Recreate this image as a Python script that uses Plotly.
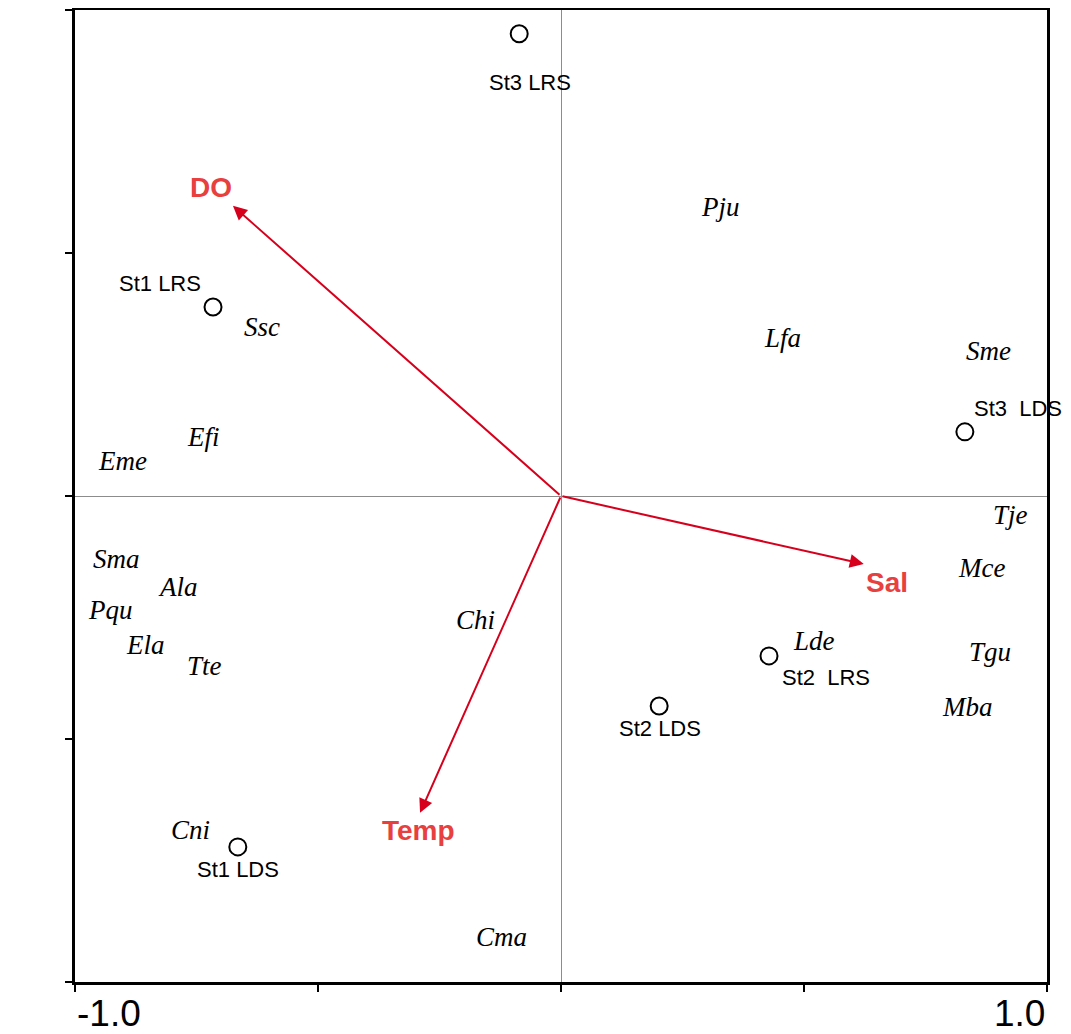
import plotly.graph_objects as go

# Sites (sample scores)
site_names = ["St3 LRS", "St1 LRS", "St3\u00a0 LDS", "St2\u00a0 LRS", "St2 LDS", "St1 LDS"]
site_x = [-0.086, -0.716, 0.831, 0.428, 0.202, -0.665]
site_y = [0.951, 0.389, 0.132, -0.329, -0.432, -0.722]

# Species scores
species_names = ["Pju", "Lfa", "Sme", "Ssc", "Efi", "Eme", "Tje", "Mce", "Sma", "Ala",
                 "Pqu", "Chi", "Ela", "Lde", "Tgu", "Tte", "Mba", "Cni", "Cma"]
species_x = [0.329, 0.455, 0.879, -0.615, -0.735, -0.903, 0.924, 0.866, -0.914, -0.788,
             -0.926, -0.175, -0.854, 0.521, 0.883, -0.733, 0.837, -0.763, -0.123]
species_y = [0.595, 0.325, 0.298, 0.348, 0.121, 0.072, -0.039, -0.148, -0.130, -0.187,
             -0.235, -0.255, -0.307, -0.298, -0.321, -0.350, -0.434, -0.687, -0.907]

# Environmental variables (biplot arrows)
env_names = ["DO", "Sal", "Temp"]
env_x = [-0.675, 0.623, -0.290]
env_y = [0.597, -0.140, -0.652]

# Tick positions and labels
tick_vals = [-1.0, -0.5, 0.0, 0.5, 1.0]
x_end_labels = ["-1.0", "1.0"]
x_end_values = [-1.0, 1.0]

# label offsets (pixels) - styling only
site_label_shift = [(11, 49), (-53, -23), (53, -23), (57, 22), (1, 23), (0, 23)]
env_label_shift = [(-22, -18), (23, 18), (-2, 18)]

ARROW_COLOR = "#D6001C"
LABEL_RED = "#E8403F"

fig = go.Figure()

fig.add_trace(go.Scatter(
    x=site_x, y=site_y, mode="markers",
    marker=dict(symbol="circle-open", size=17, color="black", line=dict(width=2, color="black")),
    hoverinfo="text", text=site_names, showlegend=False,
))

annotations = []
for name, x, y, (dx, dy) in zip(site_names, site_x, site_y, site_label_shift):
    annotations.append(dict(
        x=x, y=y, xref="x", yref="y", text=name, showarrow=False,
        xshift=dx, yshift=-dy,
        font=dict(family="Liberation Sans, Arial", size=22, color="black"),
    ))

for name, x, y in zip(species_names, species_x, species_y):
    annotations.append(dict(
        x=x, y=y, xref="x", yref="y", text="<i>" + name + "</i>", showarrow=False,
        font=dict(family="Liberation Serif, Times New Roman", size=27, color="black"),
    ))

for name, x, y, (dx, dy) in zip(env_names, env_x, env_y, env_label_shift):
    annotations.append(dict(
        x=x, y=y, xref="x", yref="y", ax=0, ay=0, axref="x", ayref="y",
        text="", showarrow=True, arrowhead=2, arrowsize=1.4, arrowwidth=2,
        arrowcolor=ARROW_COLOR, standoff=0, startstandoff=0,
    ))
    annotations.append(dict(
        x=x, y=y, xref="x", yref="y", text="<b>" + name + "</b>", showarrow=False,
        xshift=dx, yshift=-dy,
        font=dict(family="Liberation Sans, Arial", size=28, color=LABEL_RED),
    ))

# end tick labels on the x axis (left-aligned at -1, right-aligned at 1)
for lab, v in zip(x_end_labels, x_end_values):
    annotations.append(dict(
        x=v, y=0, xref="x", yref="paper", text=lab, showarrow=False,
        xanchor="left" if v < 0 else "right", yanchor="middle", yshift=-31,
        font=dict(family="Liberation Sans, Arial", size=37, color="black"),
    ))

axis_common = dict(
    range=[-1, 1], showgrid=False, automargin=False,
    zeroline=True, zerolinecolor="#8c8c8c", zerolinewidth=1,
    showline=True, mirror=True, linecolor="black", linewidth=3,
    ticks="outside", ticklen=7, tickwidth=2, tickcolor="black",
    tickmode="array", tickvals=tick_vals, showticklabels=False,
)

# page body has an 8px default margin; compensate so the plot area lands at 75..1047 x 10..982
fig.update_layout(
    width=1063, height=1026,
    margin=dict(l=67, r=24, t=2, b=52),
    paper_bgcolor="white", plot_bgcolor="white",
    xaxis=dict(axis_common),
    yaxis=dict(axis_common),
    annotations=annotations,
    showlegend=False,
)

fig.write_html("out.html")
